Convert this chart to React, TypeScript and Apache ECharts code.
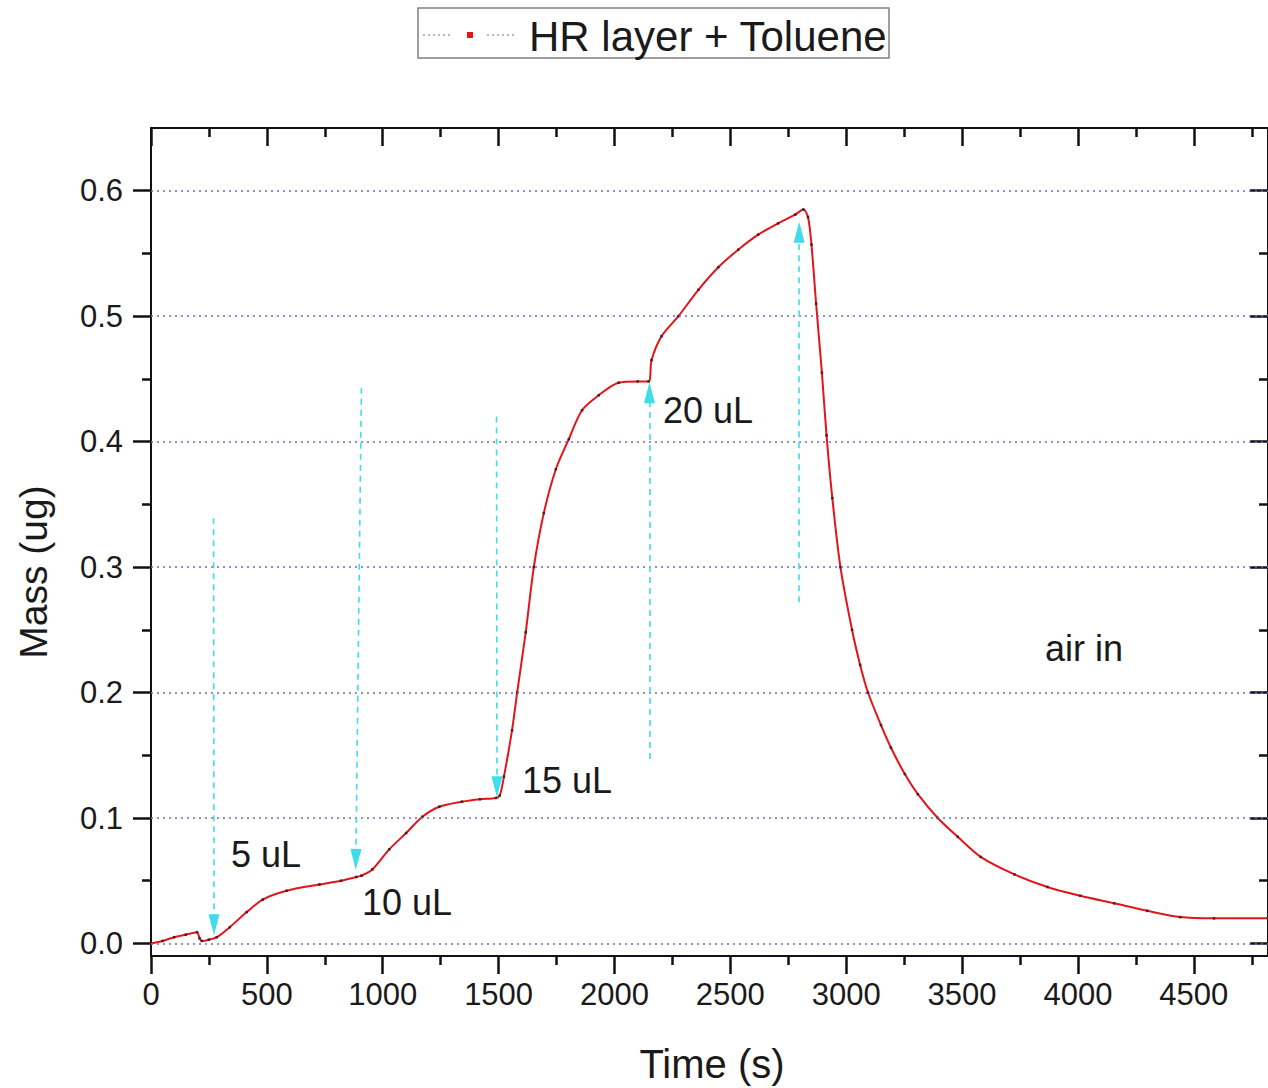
import React, { useEffect, useRef } from "react";
import * as echarts from "echarts";

// ---- data ----
const timeS = [
  0, 50, 100, 150, 198, 210, 219, 250, 284, 340, 413, 482, 585, 727, 820, 886, 908, 955,
  1028, 1101, 1171, 1244, 1342, 1420, 1489, 1505, 1523, 1558, 1580, 1617, 1652, 1695, 1747,
  1803, 1860, 1932, 2018, 2100, 2147, 2160, 2203, 2276, 2362, 2448, 2534, 2620, 2706, 2780,
  2815, 2835, 2850, 2870, 2895, 2915, 2940, 2975, 3025, 3060, 3094, 3150, 3193, 3253, 3309,
  3395, 3481, 3580, 3726, 3868, 4010, 4156, 4299, 4441, 4587, 4820,
];
const massUg = [
  0.0, 0.002, 0.005, 0.007, 0.009, 0.004, 0.002, 0.003, 0.005, 0.013, 0.025, 0.035, 0.042,
  0.047, 0.05, 0.053, 0.054, 0.059, 0.075, 0.088, 0.101, 0.109, 0.113, 0.115, 0.116, 0.118,
  0.133, 0.17, 0.2, 0.248, 0.3, 0.343, 0.378, 0.402, 0.425, 0.437, 0.447, 0.448, 0.448, 0.465,
  0.484, 0.5, 0.521, 0.539, 0.553, 0.565, 0.574, 0.581, 0.585, 0.579, 0.557, 0.51, 0.455,
  0.405, 0.355, 0.3, 0.25, 0.222, 0.2, 0.174, 0.156, 0.135, 0.119, 0.1, 0.085, 0.069, 0.055,
  0.045, 0.038, 0.032, 0.026, 0.021, 0.02, 0.02,
];

const xMajorTicks = [0, 500, 1000, 1500, 2000, 2500, 3000, 3500, 4000, 4500];
const xMinorTicks = [250, 750, 1250, 1750, 2250, 2750, 3250, 3750, 4250, 4750];
const yMajorTicks = [0, 0.1, 0.2, 0.3, 0.4, 0.5, 0.6];
const yMinorTicks = [0.05, 0.15, 0.25, 0.35, 0.45, 0.55];

// injection arrows: start (time, mass) -> end (time, mass)
const arrowStartTime = [270, 908, 1491, 2151, 2797];
const arrowStartMass = [0.339, 0.443, 0.42, 0.147, 0.272];
const arrowEndTime = [272, 884, 1493, 2151, 2797];
const arrowEndMass = [0.015, 0.067, 0.125, 0.439, 0.567];

const legendName = "HR layer + Toluene";
const annotations = ["5 uL", "10 uL", "15 uL", "20 uL", "air in"];

const X_MIN = 0;
const X_MAX = 4820;
const Y_MIN = -0.01;
const Y_MAX = 0.65;

const FONT = "'Liberation Sans', Arial, sans-serif";
const INK = "#1a1a1a";

export default function App() {
  const ref = useRef<HTMLDivElement>(null);

  useEffect(() => {
    if (!ref.current) return;
    const chart = echarts.init(ref.current, undefined, { renderer: "svg" });

    const seriesData = timeS.map((t, i) => [t, massUg[i]]);

    const tickStyle = { color: "#111", width: 2.5 };
    const lineStyle = { color: "#111", width: 2 };

    const xAxisBase = { type: "value", min: X_MIN, max: X_MAX, splitLine: { show: false } };
    const yAxisBase = { type: "value", min: Y_MIN, max: Y_MAX, splitLine: { show: false } };

    const xAxis = [
      {
        ...xAxisBase,
        position: "bottom",
        axisLine: { show: true, onZero: false, lineStyle },
        axisTick: { show: true, inside: false, length: 18, lineStyle: tickStyle, customValues: xMajorTicks },
        axisLabel: {
          show: true,
          customValues: xMajorTicks,
          fontSize: 31,
          fontFamily: FONT,
          color: INK,
          margin: 23,
          formatter: (v: number) => String(v),
        },
      },
      {
        ...xAxisBase,
        position: "bottom",
        axisLine: { show: false, onZero: false },
        axisTick: { show: true, inside: false, length: 9, lineStyle: tickStyle, customValues: xMinorTicks },
        axisLabel: { show: false },
      },
      {
        ...xAxisBase,
        position: "top",
        axisLine: { show: true, onZero: false, lineStyle },
        axisTick: { show: true, inside: true, length: 18, lineStyle: tickStyle, customValues: xMajorTicks },
        axisLabel: { show: false },
      },
      {
        ...xAxisBase,
        position: "top",
        axisLine: { show: false, onZero: false },
        axisTick: { show: true, inside: true, length: 9, lineStyle: tickStyle, customValues: xMinorTicks },
        axisLabel: { show: false },
      },
    ];

    const yAxis = [
      {
        ...yAxisBase,
        position: "left",
        axisLine: { show: true, onZero: false, lineStyle },
        axisTick: { show: true, inside: false, length: 18, lineStyle: tickStyle, customValues: yMajorTicks },
        axisLabel: {
          show: true,
          customValues: yMajorTicks,
          fontSize: 31,
          fontFamily: FONT,
          color: INK,
          margin: 28,
          formatter: (v: number) => v.toFixed(1),
        },
      },
      {
        ...yAxisBase,
        position: "left",
        axisLine: { show: false, onZero: false },
        axisTick: { show: true, inside: false, length: 9, lineStyle: tickStyle, customValues: yMinorTicks },
        axisLabel: { show: false },
      },
      {
        ...yAxisBase,
        position: "right",
        axisLine: { show: true, onZero: false, lineStyle },
        axisTick: { show: true, inside: true, length: 18, lineStyle: tickStyle, customValues: yMajorTicks },
        axisLabel: { show: false },
      },
      {
        ...yAxisBase,
        position: "right",
        axisLine: { show: false, onZero: false },
        axisTick: { show: true, inside: true, length: 9, lineStyle: tickStyle, customValues: yMinorTicks },
        axisLabel: { show: false },
      },
    ];

    const gridLines = yMajorTicks.map((v) => ({ yAxis: v }));

    const arrowLines = arrowStartTime.map((t, i) => [
      { coord: [t, arrowStartMass[i]], symbol: "none" },
      { coord: [arrowEndTime[i], arrowEndMass[i]], symbol: "triangle", symbolSize: [11, 21] },
    ]);

    const option = {
      animation: false,
      backgroundColor: "#ffffff",
      grid: { left: 151, top: 128, width: 1120, height: 828, containLabel: false },
      xAxis,
      yAxis,
      series: [
        {
          name: "grid",
          type: "line",
          data: [],
          xAxisIndex: 0,
          yAxisIndex: 0,
          z: 1,
          silent: true,
          markLine: {
            silent: true,
            symbol: ["none", "none"],
            label: { show: false },
            lineStyle: { type: [2, 4], color: "#6a6ad4", width: 1.5 },
            data: gridLines,
          },
        },
        {
          name: "arrows",
          type: "line",
          data: [],
          xAxisIndex: 0,
          yAxisIndex: 0,
          z: 2,
          silent: true,
          markLine: {
            silent: true,
            label: { show: false },
            lineStyle: { type: [6, 5], color: "#3fdde9", width: 1.6 },
            itemStyle: { color: "#22e0ee" },
            data: arrowLines,
          },
        },
        {
          name: legendName,
          type: "line",
          data: seriesData,
          xAxisIndex: 0,
          yAxisIndex: 0,
          z: 3,
          smooth: 0.3,
          showSymbol: true,
          symbol: "rect",
          symbolSize: 2.5,
          itemStyle: { color: "#4a1f1f" },
          lineStyle: { color: "#e3151b", width: 2 },
        },
      ],
      graphic: [
        // legend box
        {
          type: "rect",
          shape: { x: 418, y: 8, width: 471, height: 50 },
          style: { fill: "#ffffff", stroke: "#808080", lineWidth: 1.5 },
          z: 10,
        },
        {
          type: "line",
          shape: { x1: 423, y1: 35, x2: 452, y2: 35 },
          style: { stroke: "#707070", lineWidth: 1, lineDash: [2, 3] },
          z: 11,
        },
        {
          type: "rect",
          shape: { x: 467, y: 32, width: 6, height: 6 },
          style: { fill: "#e3151b" },
          z: 11,
        },
        {
          type: "line",
          shape: { x1: 487, y1: 35, x2: 516, y2: 35 },
          style: { stroke: "#707070", lineWidth: 1, lineDash: [2, 3] },
          z: 11,
        },
        {
          type: "text",
          x: 529,
          y: 36,
          style: {
            text: legendName,
            fontSize: 42,
            fontFamily: FONT,
            fill: INK,
            textAlign: "left",
            textVerticalAlign: "middle",
          },
          z: 11,
        },
        // axis names
        {
          type: "text",
          x: 33,
          y: 572,
          rotation: Math.PI / 2,
          style: {
            text: "Mass (ug)",
            fontSize: 39,
            fontFamily: FONT,
            fill: INK,
            textAlign: "center",
            textVerticalAlign: "middle",
          },
        },
        {
          type: "text",
          x: 712,
          y: 1064,
          style: {
            text: "Time (s)",
            fontSize: 40,
            fontFamily: FONT,
            fill: INK,
            textAlign: "center",
            textVerticalAlign: "middle",
          },
        },
        // annotations
        ...[
          [231, 854],
          [362, 902],
          [522, 780],
          [663, 410],
          [1045, 648],
        ].map((p, i) => ({
          type: "text",
          x: p[0],
          y: p[1],
          style: {
            text: annotations[i],
            fontSize: 36,
            fontFamily: FONT,
            fill: INK,
            textAlign: "left",
            textVerticalAlign: "middle",
          },
          z: 12,
        })),
      ],
    };

    chart.setOption(option as any);
    return () => chart.dispose();
  }, []);

  return (
    <div
      ref={ref}
      style={{ position: "fixed", left: 0, top: 0, width: 1268, height: 1088, background: "#fff" }}
    />
  );
}
